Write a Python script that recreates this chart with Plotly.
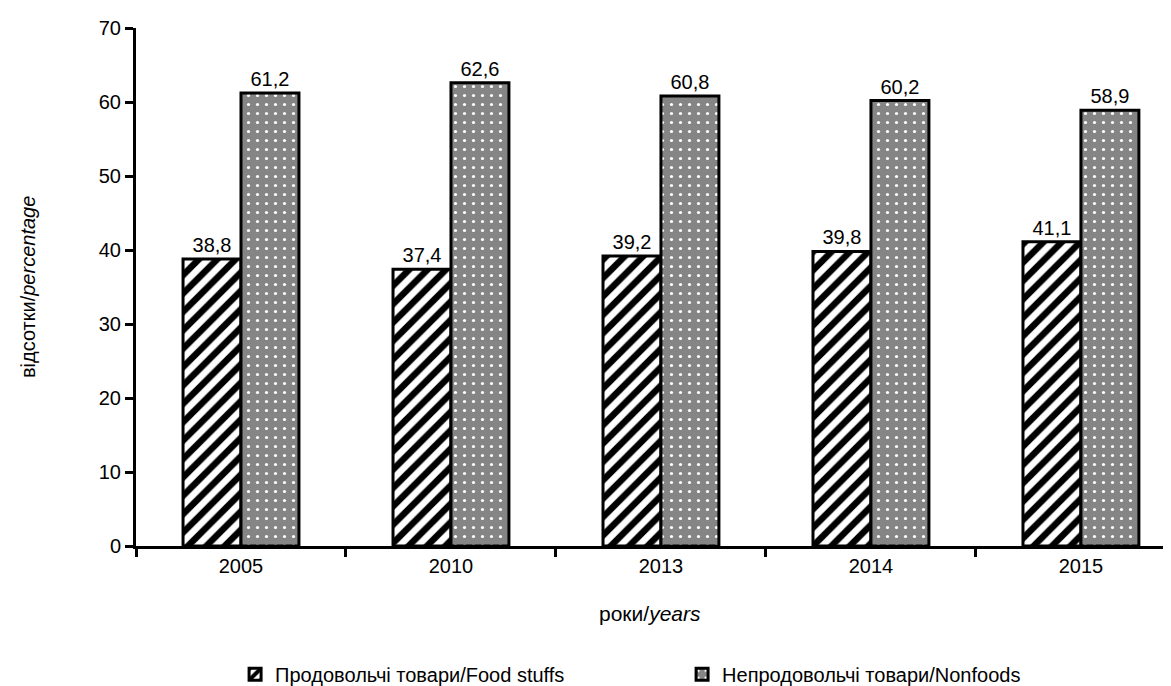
import plotly.graph_objects as go

years = ["2005", "2010", "2013", "2014", "2015"]
food = [38.8, 37.4, 39.2, 39.8, 41.1]
nonfood = [61.2, 62.6, 60.8, 60.2, 58.9]
y_ticks = [0, 10, 20, 30, 40, 50, 60, 70]

FONT = "Liberation Sans, Arial, sans-serif"


def fmt(v):
    return f"{v:.1f}".replace(".", ",")


fig = go.Figure()
fig.add_trace(go.Bar(
    x=years, y=food, name="Продовольчі товари/Food stuffs",
    text=[fmt(v) for v in food], textposition="outside",
    marker=dict(color="white", line=dict(color="black", width=3),
                pattern=dict(shape="/", fgcolor="black", bgcolor="white",
                             fgopacity=1, size=13, solidity=0.5)),
))
fig.add_trace(go.Bar(
    x=years, y=nonfood, name="Непродовольчі товари/Nonfoods",
    text=[fmt(v) for v in nonfood], textposition="outside",
    marker=dict(color="#868686", line=dict(color="black", width=3),
                pattern=dict(shape=".", fgcolor="white", bgcolor="#858585",
                             fgopacity=1, size=9, solidity=0.1)),
))

fig.update_traces(textfont=dict(family=FONT, size=20, color="black"),
                  cliponaxis=False)

fig.update_layout(
    width=1171, height=686,
    margin=dict(l=128, r=0, t=20, b=141),
    paper_bgcolor="white", plot_bgcolor="white",
    font=dict(family=FONT, size=20, color="black"),
    barmode="group", bargap=0.448, bargroupgap=0,
    showlegend=True,
    legend=dict(orientation="h", x=0.095, y=-0.2476, xanchor="left",
                yanchor="middle", entrywidth=402, font=dict(size=20),
                itemwidth=30),
    xaxis=dict(type="category", range=[-0.5, 4.467], tickson="boundaries",
               showline=True, linecolor="black", linewidth=3,
               ticks="outside", ticklen=8, tickwidth=2.5, tickcolor="black",
               showgrid=False, zeroline=False),
    yaxis=dict(range=[0, 70], tickvals=y_ticks, showline=True,
               linecolor="black", linewidth=3, ticks="outside", ticklen=8,
               tickwidth=2.5, tickcolor="black", showgrid=False,
               zeroline=False),
    annotations=[
        dict(text="роки/<i>years</i>", xref="paper", yref="paper",
             x=0.493, y=-0.157, showarrow=False, font=dict(size=21)),
        dict(text="відсотки/<i>percentage</i>", xref="paper", yref="paper",
             x=-0.1035, y=0.5, xanchor="center", yanchor="middle",
             textangle=-90, showarrow=False, font=dict(size=20)),
    ],
)

fig.write_html("out.html")
